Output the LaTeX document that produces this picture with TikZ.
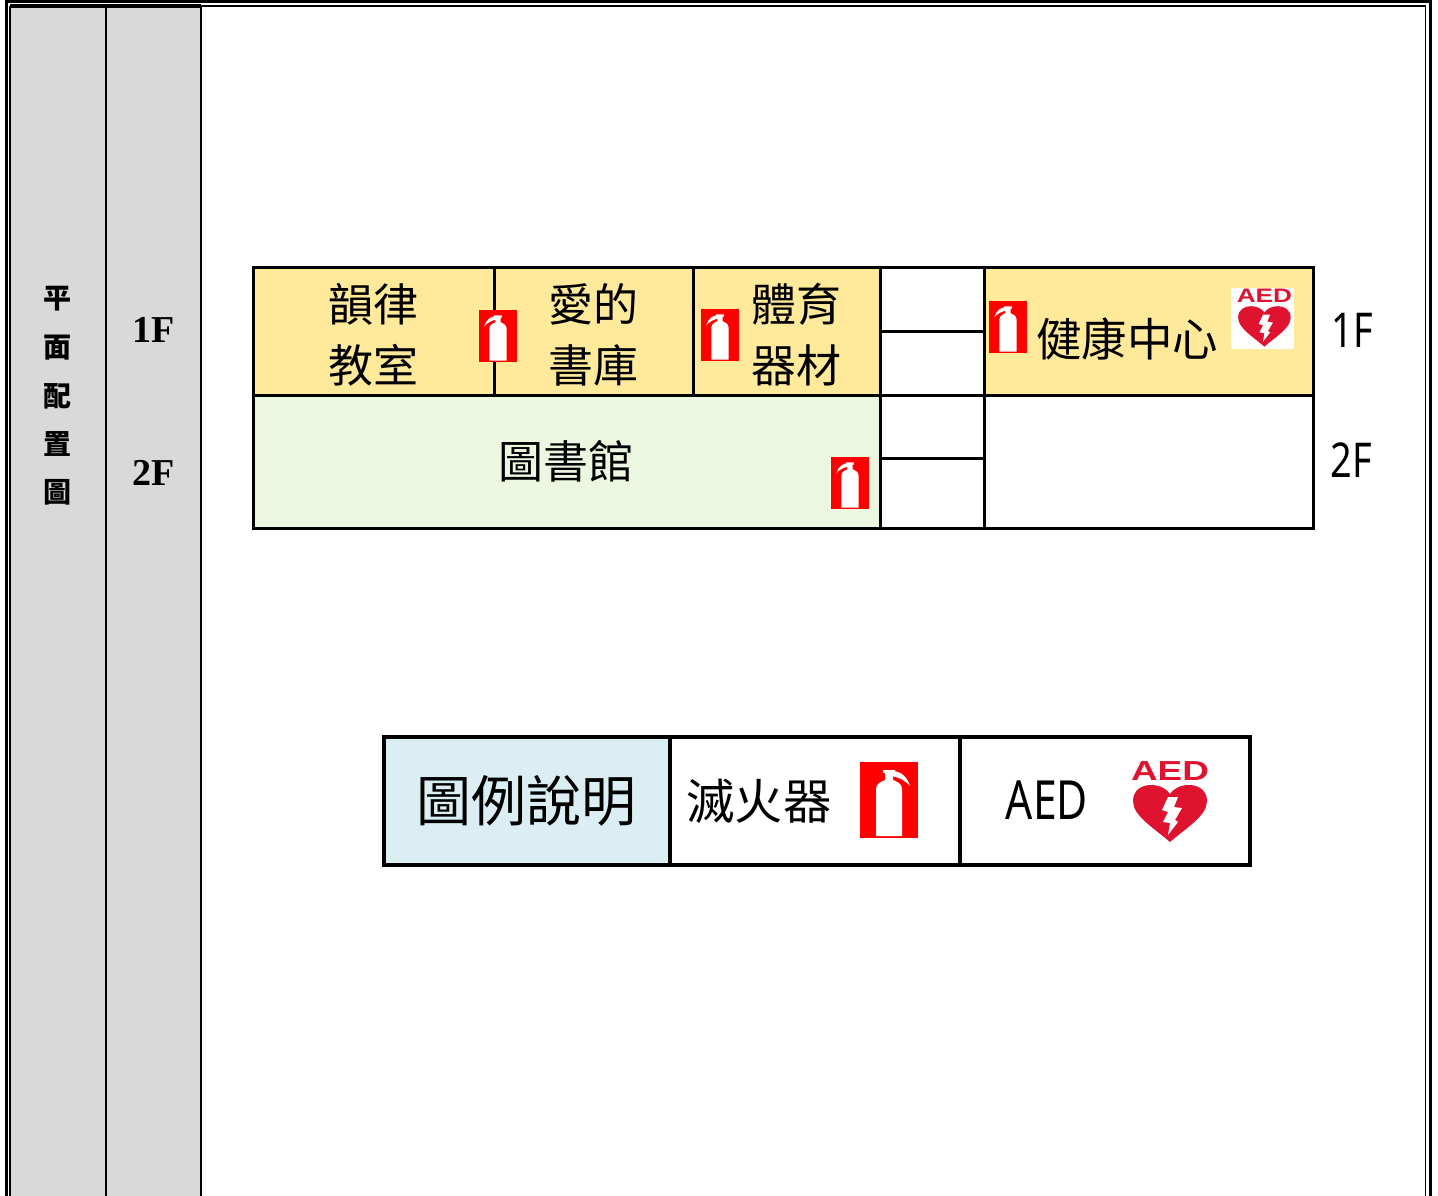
\documentclass[tikz,border=0pt]{standalone}
\usepackage{fontspec}
\setmainfont{Noto Sans CJK TC}
\newfontfamily\seriffont{Liberation Serif}
\newfontfamily\narrowfont[FakeStretch=0.79]{Noto Sans}
\newfontfamily\aedfont{Liberation Sans}
\definecolor{roomyellow}{HTML}{FFE99B}
\definecolor{roomgreen}{HTML}{EBF7E1}
\definecolor{legendblue}{HTML}{DAEEF3}
\definecolor{sidegray}{HTML}{D9D9D9}
\definecolor{aedred}{HTML}{DF1230}
\tikzset{
    room/.style={draw, line width=3pt, anchor=north west, inner sep=0pt, outer sep=0pt},
    legendcell/.style={room, line width=4.5pt},
    sidecell/.style={room, fill=sidegray, line width=2.5pt},
    roomtext/.style={align=center, inner sep=0pt, font=\fontsize{45}{61}\selectfont},
    sidetext/.style={inner sep=0pt, font=\fontsize{28}{28}\selectfont\bfseries},
    floortext/.style={inner sep=0pt, font=\fontsize{38}{38}\selectfont\seriffont\bfseries},
    floorname/.style={inner sep=0pt, font=\fontsize{48}{48}\selectfont\narrowfont},
    extinguisher/.pic={
        \fill[red] (0,0) rectangle (58,76);
        \fill[white] (16,74) -- (16,27) .. controls (16,22) and (20,20) .. (25,18)
            -- (25,11) -- (23,11) -- (23,8) -- (35,8) -- (35,11) -- (33,11) -- (33,18)
            .. controls (38,20) and (42,22) .. (42,27) -- (42,74) -- cycle;
        \fill[white] (26,9) .. controls (18,9) and (11,14) .. (8,24)
            .. controls (13,18) and (20,15) .. (27,14) -- cycle;
    },
    aedsign/.pic={
        \node[transform shape, xscale=1.34, inner sep=0pt, text=aedred,
            font=\fontsize{27.5}{27.5}\selectfont\aedfont\bfseries] (aedword) at (40,13) {AED};
        \fill[aedred] (40,84) .. controls (24,70) and (3,58) .. (3,43)
            .. controls (3,32) and (12,27) .. (21,27)
            .. controls (30,27) and (37,31) .. (40,36)
            .. controls (43,31) and (50,27) .. (59,27)
            .. controls (68,27) and (77,32) .. (77,43)
            .. controls (77,58) and (56,70) .. (40,84) -- cycle;
        \fill[white] (38,39) -- (48,39) -- (44,49) -- (52,50) -- (45,62) -- (48,64)
            -- (38,77) -- (40,65) -- (33,64) -- (38,54) -- (32,52) -- cycle;
    },
}
\begin{document}
\begin{tikzpicture}[x=1pt, y=-1pt]
    \useasboundingbox (0,0) rectangle (1438,1196);

    % Side columns
    \node[sidecell, minimum width=96, minimum height=1200] (titlecol) at (10,7) {};
    \node[sidecell, minimum width=95, minimum height=1200] (floorcol) at (106,7) {};
    \node[sidetext] (sidea) at (57,299) {平};
    \node[sidetext] (sideb) at (57,348) {面};
    \node[sidetext] (sidec) at (57,396) {配};
    \node[sidetext] (sided) at (57,444) {置};
    \node[sidetext] (sidee) at (57,492) {圖};
    \node[floortext] (sideone) at (153.5,330) {1F};
    \node[floortext] (sidetwo) at (153.5,473) {2F};

    % Page frame
    \draw[line width=3.5pt] (6.5,1200) -- (6.5,1.5) -- (1430.5,1.5) -- (1430.5,1200);
    \draw[line width=1.5pt] (10.5,1200) -- (10.5,6) -- (1425.5,6) -- (1425.5,1200);
    \draw[line width=4pt] (10,6.5) -- (201,6.5);

    % First floor
    \node[room, fill=roomyellow, minimum width=241, minimum height=128] (rhythm) at (253,267) {};
    \node[room, fill=roomyellow, minimum width=199, minimum height=128] (bookroom) at (494,267) {};
    \node[room, fill=roomyellow, minimum width=187, minimum height=128] (sports) at (693,267) {};
    \node[room, minimum width=104, minimum height=64] (stairone) at (880,267) {};
    \node[room, minimum width=104, minimum height=64] (stairtwo) at (880,331) {};
    \node[room, fill=roomyellow, minimum width=329, minimum height=128] (health) at (984,267) {};

    % Second floor
    \node[room, fill=roomgreen, minimum width=627, minimum height=133] (library) at (253,395) {};
    \node[room, minimum width=104, minimum height=63] (stairthree) at (880,395) {};
    \node[room, minimum width=104, minimum height=70] (stairfour) at (880,458) {};
    \node[room, minimum width=329, minimum height=133] (empty) at (984,395) {};

    % Room names
    \node[roomtext] (rhythmtext) at (373,335) {韻律\\教室};
    \node[roomtext] (booktext) at (593,335) {愛的\\書庫};
    \node[roomtext] (sportstext) at (796,335) {體育\\器材};
    \node[roomtext, font=\fontsize{45.5}{50}\selectfont] (healthtext) at (1127,339) {健康中心};
    \node[roomtext, font=\fontsize{45}{50}\selectfont] (librarytext) at (566,461) {圖書館};
    \node[floorname] (floorone) at (1352,330) {1F};
    \node[floorname] (floortwo) at (1351,460) {2F};

    % Extinguishers and AED on the plan
    \pic[shift={(479,310)}, xscale=0.655, yscale=0.684] {extinguisher};
    \pic[shift={(701,309)}, xscale=0.655, yscale=0.684] {extinguisher};
    \pic[shift={(989,301)}, xscale=0.655, yscale=0.684] {extinguisher};
    \pic[shift={(831,457)}, xscale=0.655, yscale=0.684] {extinguisher};
    \fill[white] (1231,288) rectangle (1294,349);
    \pic[shift={(1236,287)}, scale=0.71] {aedsign};

    % Legend
    \node[legendcell, fill=legendblue, minimum width=286, minimum height=128] (legendtitle) at (384,737) {};
    \node[legendcell, minimum width=290, minimum height=128] (legendfire) at (670,737) {};
    \node[legendcell, minimum width=290, minimum height=128] (legendaed) at (960,737) {};
    \node[roomtext, font=\fontsize{55}{60}\selectfont] (legendtitletext) at (526,801) {圖例說明};
    \node[roomtext, font=\fontsize{48.5}{50}\selectfont] (legendfiretext) at (759,801) {滅火器};
    \node[floorname, font=\fontsize{54}{54}\selectfont\narrowfont] (legendaedtext) at (1047,800) {AED};
    \pic[shift={(918,762)}, xscale=-1] {extinguisher};
    \pic[shift={(1130,758)}] {aedsign};
\end{tikzpicture}
\end{document}
